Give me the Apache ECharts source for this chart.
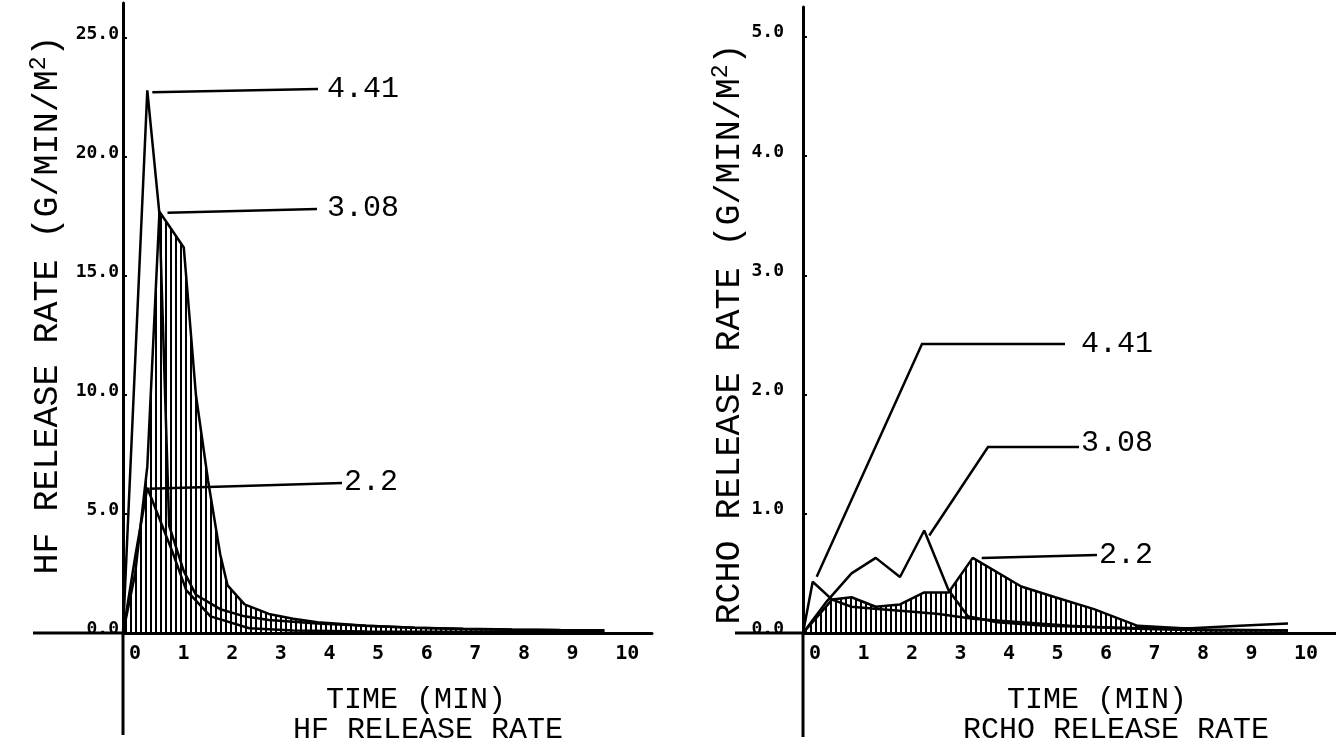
<!DOCTYPE html>
<html>
<head>
<meta charset="utf-8">
<script src="https://cdn.jsdelivr.net/npm/echarts@6/dist/echarts.min.js"></script>
<style>
  html, body { margin: 0; padding: 0; background: #fff; }
  #chart { width: 1336px; height: 754px; }
</style>
</head>
<body>
<div id="chart"></div>
<script>
  // HF release rate (g/min/m2) vs time (min), one curve per sample
  const hfTime441 = [0, 0.5, 0.75, 0.95, 1.25, 1.5, 2.0, 2.5, 3, 4, 5, 6, 7, 8, 9, 9.9];
  const hfRate441 = [0, 22.8, 17.6, 4.5, 2.6, 1.6, 1.0, 0.7, 0.55, 0.4, 0.3, 0.22, 0.17, 0.14, 0.12, 0.1];
  const hfTime308 = [0, 0.25, 0.5, 0.75, 0.95, 1.25, 1.5, 1.75, 2.0, 2.15, 2.5, 3, 3.5, 4, 5, 6, 7, 8, 9, 9.9];
  const hfRate308 = [0, 2.5, 7, 17.7, 17.1, 16.2, 10, 6.4, 3.3, 2.0, 1.2, 0.8, 0.6, 0.45, 0.3, 0.22, 0.18, 0.15, 0.13, 0.12];
  const hfTime22 = [0, 0.25, 0.5, 0.75, 1.0, 1.3, 1.8, 2.6, 3.5, 5, 7, 9.9];
  const hfRate22 = [0, 3.2, 6.1, 4.8, 3.5, 1.8, 0.7, 0.2, 0.1, 0.06, 0.05, 0.05];

  // RCHO release rate (g/min/m2) vs time (min)
  const rcTime441 = [0, 0.2, 0.6, 1.0, 1.6, 2.2, 2.8, 3.5, 4.5, 5.5, 6.5, 7.5, 8.5, 10];
  const rcRate441 = [0, 0.43, 0.28, 0.22, 0.2, 0.18, 0.16, 0.12, 0.09, 0.06, 0.04, 0.03, 0.02, 0.02];
  const rcTime308 = [0, 0.5, 1.0, 1.5, 2.0, 2.5, 3.0, 3.4, 4, 5, 6, 7, 8, 9, 10];
  const rcRate308 = [0, 0.27, 0.5, 0.63, 0.47, 0.86, 0.36, 0.14, 0.09, 0.06, 0.05, 0.04, 0.04, 0.06, 0.08];
  const rcTime22 = [0, 0.3, 0.6, 1.0, 1.5, 2.0, 2.5, 3.0, 3.5, 4.5, 5.2, 6.0, 6.9, 8.3, 10];
  const rcRate22 = [0, 0.14, 0.28, 0.3, 0.22, 0.24, 0.34, 0.34, 0.63, 0.39, 0.3, 0.2, 0.06, 0.03, 0.02];

  const sampleNames = ['4.41', '3.08', '2.2'];
  const timeTicks = [0, 1, 2, 3, 4, 5, 6, 7, 8, 9, 10];
  const hfTicks = [0, 5, 10, 15, 20, 25];
  const rcTicks = [0, 1, 2, 3, 4, 5];

  function pairs(t, v) {
    return t.map((x, i) => [x, v[i]]);
  }

  // vertical line hatching for the shaded curve
  const hatch = document.createElement('canvas');
  hatch.width = 5;
  hatch.height = 4;
  const hctx = hatch.getContext('2d');
  hctx.fillStyle = '#000';
  hctx.fillRect(0, 0, 2, 4);

  const monoBold = 'DejaVu Sans Mono';
  const typeFont = 'Liberation Mono';

  function xAxisCfg(gi, max) {
    return {
      type: 'value', gridIndex: gi, min: 0, max: max,
      axisLine: { onZero: false, lineStyle: { color: '#000', width: 3 } },
      axisTick: { show: false },
      splitLine: { show: false },
      axisLabel: {
        customValues: timeTicks,
        formatter: (v) => String(v),
        color: '#000', fontFamily: monoBold, fontWeight: 'bold', fontSize: 20,
        align: 'left', padding: [0, 0, 0, 6], margin: 11,
      },
    };
  }

  function yAxisCfg(gi, max, ticks, margin) {
    return {
      type: 'value', gridIndex: gi, min: 0, max: max,
      axisLine: { onZero: false, lineStyle: { color: '#000', width: 3 } },
      axisTick: { show: true, inside: true, customValues: ticks, length: 4, lineStyle: { color: '#000', width: 2 } },
      splitLine: { show: false },
      axisLabel: {
        customValues: ticks,
        formatter: (v) => v.toFixed(1),
        color: '#000', fontFamily: monoBold, fontWeight: 'bold', fontSize: 18,
        margin: margin, verticalAlign: 'bottom', lineHeight: 8,
      },
    };
  }

  function lineSeries(gi, t, v, shaded) {
    const s = {
      type: 'line', xAxisIndex: gi, yAxisIndex: gi,
      data: pairs(t, v),
      showSymbol: false, symbol: 'none', clip: false,
      lineStyle: { color: '#000', width: 2.5 },
      emphasis: { disabled: true },
    };
    if (shaded) {
      s.areaStyle = { color: { image: hatch, repeat: 'repeat' }, opacity: 1 };
    }
    return s;
  }

  const option = {
    animation: false,
    backgroundColor: '#fff',
    grid: [
      { left: 123, top: 3, width: 529, height: 630, outerBoundsMode: 'none' },
      { left: 803, top: 7, width: 533, height: 626, outerBoundsMode: 'none' },
    ],
    xAxis: [xAxisCfg(0, 10.88), xAxisCfg(1, 10.99)],
    yAxis: [yAxisCfg(0, 26.47, hfTicks, 4), yAxisCfg(1, 5.25, rcTicks, 19)],
    series: [
      lineSeries(0, hfTime441, hfRate441, false),
      lineSeries(0, hfTime308, hfRate308, true),
      lineSeries(0, hfTime22, hfRate22, false),
      lineSeries(1, rcTime441, rcRate441, false),
      lineSeries(1, rcTime308, rcRate308, false),
      lineSeries(1, rcTime22, rcRate22, true),
    ],
  };

  const chart = echarts.init(document.getElementById('chart'));
  chart.setOption(option);

  const graphics = [];

  // the plotter draws both axes on through the origin
  [[0, 90, 102], [1, 68, 104]].forEach((a) => {
    const o = chart.convertToPixel({ gridIndex: a[0] }, [0, 0]);
    graphics.push({
      type: 'polyline', shape: { points: [[o[0] - a[1], o[1]], [o[0], o[1]], [o[0], o[1] + a[2]]] },
      style: { stroke: '#000', lineWidth: 3, fill: null },
    });
  });

  // leader lines from each curve's peak to its label
  const leaders = [
    { gi: 0, t: hfTime441, v: hfRate441, off: [5, 2], path: [[318, 89]], text: [327, 89] },
    { gi: 0, t: hfTime308, v: hfRate308, off: [8, 1], path: [[317, 209]], text: [327, 208] },
    { gi: 0, t: hfTime22, v: hfRate22, off: [2, 1], path: [[342, 483]], text: [344, 482] },
    { gi: 1, t: rcTime441, v: rcRate441, off: [4, -5], path: [[922, 344], [1065, 344]], text: [1081, 344] },
    { gi: 1, t: rcTime308, v: rcRate308, off: [5, 5], path: [[988, 447], [1079, 447]], text: [1081, 443] },
    { gi: 1, t: rcTime22, v: rcRate22, off: [9, 0], path: [[1097, 555]], text: [1099, 555] },
  ];

  leaders.forEach((l, i) => {
    let k = 0;
    l.v.forEach((val, j) => { if (val > l.v[k]) k = j; });
    const p = chart.convertToPixel({ gridIndex: l.gi }, [l.t[k], l.v[k]]);
    const pts = [[p[0] + l.off[0], p[1] + l.off[1]]].concat(l.path);
    graphics.push({
      type: 'polyline', shape: { points: pts },
      style: { stroke: '#000', lineWidth: 2.5, fill: null },
    });
    graphics.push({
      type: 'text', x: l.text[0], y: l.text[1],
      style: {
        text: sampleNames[i % 3], fill: '#000',
        font: '30px "' + typeFont + '"', align: 'left', verticalAlign: 'middle',
      },
    });
  });

  // axis titles
  const rich = {
    b: { fontFamily: typeFont, fontSize: 35, lineHeight: 42, fill: '#000' },
    s: { fontFamily: typeFont, fontSize: 23, lineHeight: 23, verticalAlign: 'top', fill: '#000' },
  };
  graphics.push({
    type: 'text', x: 48, y: 305, rotation: Math.PI / 2,
    style: { text: '{b|HF RELEASE RATE (G/MIN/M}{s|2}{b|)}', rich: rich, align: 'center', verticalAlign: 'middle' },
  });
  graphics.push({
    type: 'text', x: 730, y: 334, rotation: Math.PI / 2,
    style: { text: '{b|RCHO RELEASE RATE (G/MIN/M}{s|2}{b|)}', rich: rich, align: 'center', verticalAlign: 'middle' },
  });
  [
    ['TIME (MIN)', 416, 700], ['HF RELEASE RATE', 428, 730],
    ['TIME (MIN)', 1097, 700], ['RCHO RELEASE RATE', 1116, 730],
  ].forEach((d) => {
    graphics.push({
      type: 'text', x: d[1], y: d[2],
      style: { text: d[0], fill: '#000', font: '30px "' + typeFont + '"', align: 'center', verticalAlign: 'middle' },
    });
  });

  chart.setOption({ graphic: graphics });
</script>
</body>
</html>
